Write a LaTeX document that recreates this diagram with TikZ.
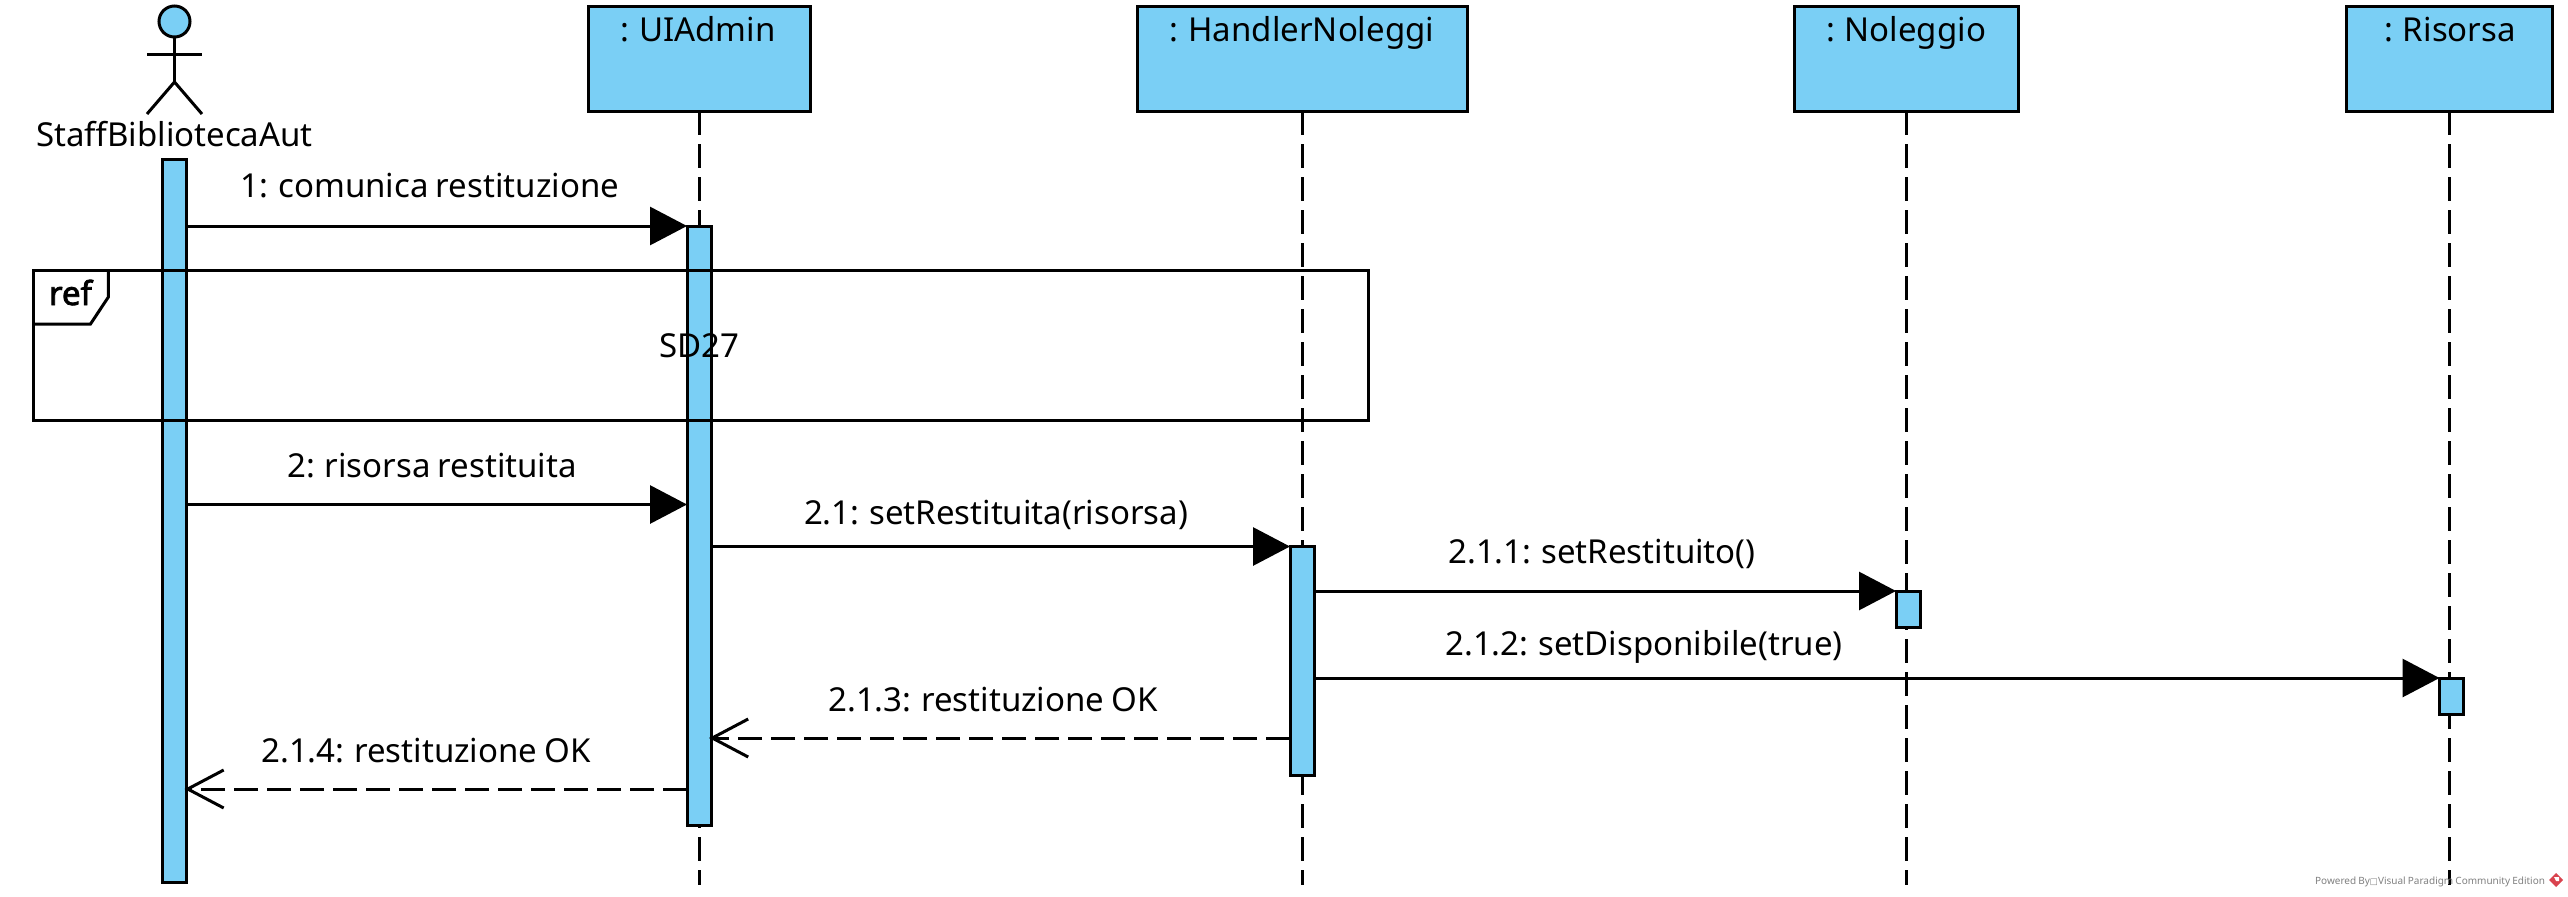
\documentclass[tikz,border=0pt]{standalone}
\usepackage{fontspec}
\setmainfont{Noto Sans}[WordSpace=0.82]
\newfontfamily\reffont{Noto Sans}[FakeBold=2.5]
\newfontfamily\tofufont{DejaVu Sans}
\usetikzlibrary{arrows.meta}
\definecolor{vpblue}{HTML}{7ACFF5}
\definecolor{vpgray}{HTML}{808080}
\definecolor{vpred}{HTML}{D9434E}
\tikzset{
  every node/.style={inner sep=0pt,outer sep=0pt},
  line/.style={line width=3pt,draw=black},
  lifeline/.style={line width=3pt,draw=black,dash pattern=on 24pt off 9pt},
  objbox/.style={line,fill=vpblue,minimum height=105pt,anchor=north},
  actbar/.style={line,fill=vpblue,minimum width=24pt,anchor=north},
  txt/.style={font=\fontsize{33}{38}\selectfont,anchor=base,text=black},
  msg/.style={line,-{Triangle[length=37pt,width=38pt]}},
  ret/.style={line,dash pattern=on 24pt off 9pt,-{Straight Barb[length=36pt,width=38pt,line width=3pt]}},
}
\begin{document}
\begin{tikzpicture}[x=1pt,y=-1pt]
\useasboundingbox (0,0) rectangle (2568,897);
% object boxes
\node[objbox,minimum width=222pt] (ui) at (699,6) {};
\node[objbox,minimum width=330pt] (hn) at (1302.5,6) {};
\node[objbox,minimum width=224pt] (no) at (1906,6) {};
\node[objbox,minimum width=206pt] (ri) at (2449.5,6) {};
\node[txt] (uit) at (698,41.5) {: UIAdmin};
\node[txt] (hnt) at (1302,41.5) {: HandlerNoleggi};
\node[txt] (not) at (1906,41.5) {: Noleggio};
\node[txt] (rit) at (2450,41.5) {: Risorsa};
% lifeline ends
\coordinate (uie) at (699,885);
\coordinate (hne) at (1302.5,885);
\coordinate (noe) at (1906,885);
\coordinate (rie) at (2449.5,885);
\draw[lifeline] (ui.south) -- (uie);
\draw[lifeline] (hn.south) -- (hne);
\draw[lifeline] (no.south) -- (noe);
\draw[lifeline] (ri.south) -- (rie);
% actor
\node[line,fill=vpblue,circle,minimum size=31pt] (head) at (174.5,21.5) {};
\coordinate (hip) at (174.5,82);
\coordinate (armL) at (147,54);
\coordinate (armR) at (202,54);
\coordinate (legL) at (147,114);
\coordinate (legR) at (202,114);
\draw[line] (head.south) -- (hip);
\draw[line] (armL) -- (armR);
\draw[line] (legL) -- (hip) -- (legR);
\node[txt] (act) at (174.5,146.5) {StaffBibliotecaAut};
% activations
\node[actbar,minimum height=723pt] (a0) at (174.5,159) {};
\node[actbar,minimum height=599pt] (a1) at (699,226) {};
\node[actbar,minimum height=229pt] (a2) at (1302,546) {};
\node[actbar,minimum height=36pt] (a3) at (1908,591) {};
\node[actbar,minimum height=36pt] (a4) at (2451.5,678) {};
% ref frame
\node[line,minimum width=1335pt,minimum height=150.5pt,anchor=north west] (ref) at (33.6,270) {};
\coordinate (tabA) at (108.4,270);
\coordinate (tabB) at (108.4,297);
\coordinate (tabC) at (90.5,324);
\coordinate (tabD) at (33.6,324);
\draw[line] (tabA) -- (tabB) -- (tabC) -- (tabD);
\node[txt,font=\fontsize{33}{38}\selectfont\reffont,anchor=base west] (reft) at (49,305) {ref};
\node[txt] (sd) at (699,357) {SD27};
% messages
\coordinate (m1) at (0,226);
\coordinate (m2) at (0,504.5);
\coordinate (m3) at (0,546.5);
\coordinate (m4) at (0,591);
\coordinate (m5) at (0,678);
\coordinate (m6) at (0,738);
\coordinate (m7) at (0,789);
\draw[msg] (a0.east |- m1) -- (a1.west |- m1);
\draw[msg] (a0.east |- m2) -- (a1.west |- m2);
\draw[msg] (a1.east |- m3) -- (a2.west |- m3);
\draw[msg] (a2.east |- m4) -- (a3.west |- m4);
\draw[msg] (a2.east |- m5) -- (a4.west |- m5);
\draw[ret,shorten >=-2pt] (a2.west |- m6) -- (a1.east |- m6);
\draw[ret,shorten >=-2pt] (a1.west |- m7) -- (a0.east |- m7);
\node[txt] (l1) at (430,197) {1: comunica restituzione};
\node[txt] (l2) at (432,477) {2: risorsa restituita};
\node[txt] (l3) at (996,524) {2.1: setRestituita(risorsa)};
\node[txt] (l4) at (1602,563) {2.1.1: setRestituito()};
\node[txt] (l5) at (1644,655) {2.1.2: setDisponibile(true)};
\node[txt] (l6) at (993,711) {2.1.3: restituzione OK};
\node[txt] (l7) at (426,762.5) {2.1.4: restituzione OK};
% watermark
\node[font=\fontsize{10}{12}\selectfont,text=vpgray,anchor=base east] (wm) at (2545,884) {Powered By{\tofufont\fontsize{8.5}{9}\selectfont □}Visual Paradigm Community Edition};
\fill[vpred] (2556,873) -- (2563,880) -- (2556,887) -- (2549,880) -- cycle;
\fill[white] (2554,877) -- (2559,877) -- (2559,881) -- (2556,881) -- cycle;
\end{tikzpicture}
\end{document}
